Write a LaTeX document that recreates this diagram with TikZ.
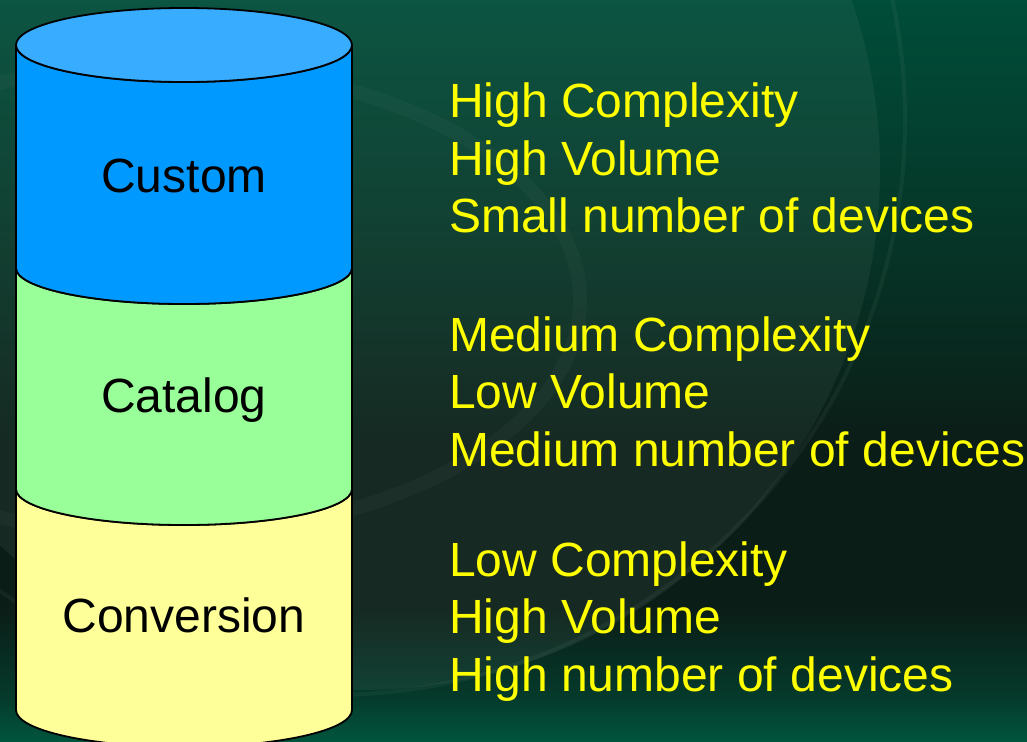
\documentclass[tikz,border=0pt]{standalone}
\usepackage{fontspec}
\setmainfont{Liberation Sans}

\definecolor{bgtop}{HTML}{004D39}
\definecolor{bgmid}{HTML}{063426}
\definecolor{bgdark}{HTML}{0B1D17}
\definecolor{bglow}{HTML}{053A2B}
\definecolor{bgbot}{HTML}{00553D}
\definecolor{emblem}{HTML}{8FA89E}
\definecolor{custombody}{HTML}{0099FF}
\definecolor{customtop}{HTML}{38ACFF}
\definecolor{catalogbody}{HTML}{99FF99}
\definecolor{conversionbody}{HTML}{FFFF99}
\definecolor{notetext}{HTML}{FFFF00}

% slide background, dark in the lower middle, green at top and bottom
\pgfdeclareverticalshading{slidebg}{100bp}{%
  color(0bp)=(bgbot); color(25bp)=(bgbot); color(28bp)=(bglow);
  color(34bp)=(bgdark); color(45bp)=(bgdark); color(58bp)=(bgmid);
  color(75bp)=(bgtop); color(100bp)=(bgtop)}

\tikzset{
  layer/.style={draw=black, line width=1.8pt, line join=round},
  layername/.style={font=\fontsize{48}{57.5}\selectfont, text=black, anchor=base, inner sep=0pt},
  note/.style={font=\fontsize{48}{57.5}\selectfont, text=notetext, anchor=base west, inner sep=0pt},
}

\begin{document}
\begin{tikzpicture}[x=1pt, y=-1pt]
  % background
  \useasboundingbox (0,0) rectangle (1027,741);
  \shade[shading=slidebg] (0,0) rectangle (1027,741);
  \begin{scope}
    \clip (0,0) rectangle (1027,741);
    % faint emblem in the background
    \fill[emblem, opacity=0.09] (360,170) circle (520);
    \draw[emblem, opacity=0.08, line width=4pt] (330,120) circle (575);
    \draw[emblem, opacity=0.05, line width=14pt] (160,300) ellipse (420 and 235);
  \end{scope}

  % stacked cylinder: Conversion (bottom)
  \fill[conversionbody, layer]
    (16,489) -- (16,710) arc[start angle=180, end angle=0, x radius=168, y radius=37]
    -- (352,489) arc[start angle=0, end angle=180, x radius=168, y radius=36] -- cycle;
  % Catalog (middle)
  \fill[catalogbody, layer]
    (16,268) -- (16,489) arc[start angle=180, end angle=0, x radius=168, y radius=36]
    -- (352,268) arc[start angle=0, end angle=180, x radius=168, y radius=36] -- cycle;
  % Custom (top)
  \fill[custombody, layer]
    (16,45) -- (16,268) arc[start angle=180, end angle=0, x radius=168, y radius=36]
    -- (352,45) arc[start angle=0, end angle=180, x radius=168, y radius=37] -- cycle;
  \fill[customtop, layer] (184,45) ellipse (168 and 37);

  % layer names
  \node[layername] (custom) at (184,192) {Custom};
  \node[layername] (catalog) at (184,412) {Catalog};
  \node[layername] (conversion) at (184,632) {Conversion};

  % characteristics of each layer
  \node[note] (c1) at (449,117.5) {High Complexity};
  \node[note] (c2) at (449,175) {High Volume};
  \node[note] (c3) at (449,232.5) {Small number of devices};

  \node[note] (m1) at (449,351) {Medium Complexity};
  \node[note] (m2) at (449,408.5) {Low Volume};
  \node[note] (m3) at (449,466) {Medium number of devices};

  \node[note] (l1) at (449,576) {Low Complexity};
  \node[note] (l2) at (449,633.5) {High Volume};
  \node[note] (l3) at (449,691) {High number of devices};
\end{tikzpicture}
\end{document}
